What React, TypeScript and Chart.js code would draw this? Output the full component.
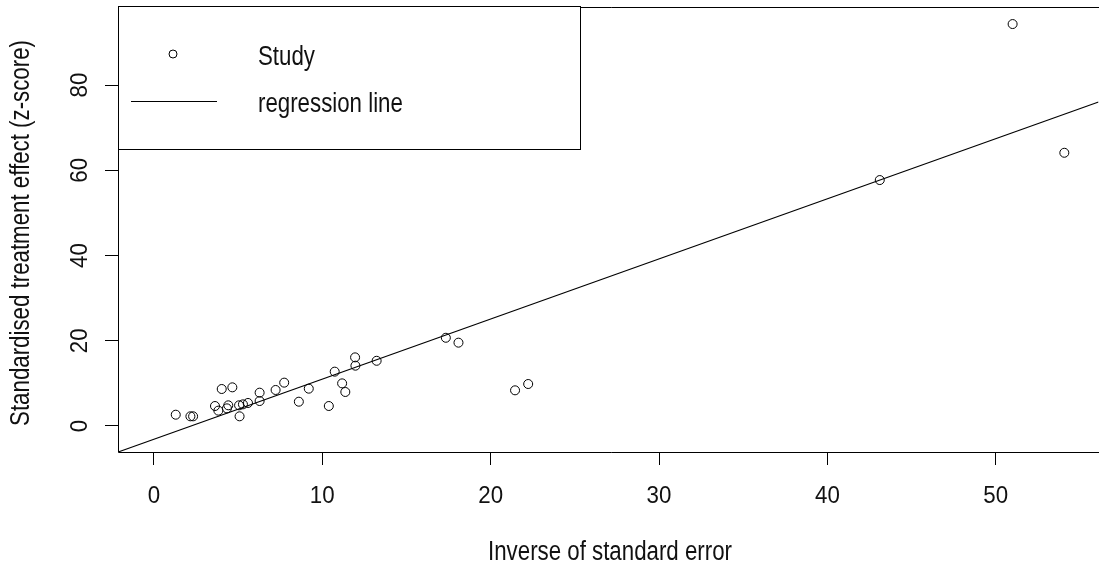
import React, { useEffect, useRef } from "react";
import { Chart, registerables } from "chart.js";

Chart.register(...registerables);

// Study points: inverse of standard error (x) vs standardised effect (y)
const STUDY_X = [
  1.3, 2.17, 2.33, 3.63, 3.83, 4.03, 4.66, 4.34, 4.42, 5.06, 5.09, 5.29, 5.59,
  6.28, 6.28, 7.23, 7.74, 8.61, 9.2, 10.39, 10.74, 11.18, 11.37, 11.95, 11.97,
  13.23, 17.34, 18.09, 21.45, 22.23, 43.11, 51.0, 54.07,
];
const STUDY_Y = [
  2.65, 2.27, 2.27, 4.69, 3.6, 8.68, 9.07, 4.14, 4.85, 4.85, 2.27, 5.08, 5.4,
  7.82, 5.86, 8.45, 10.17, 5.7, 8.76, 4.69, 12.75, 10.0, 7.98, 16.1, 14.15,
  15.3, 20.7, 19.55, 8.37, 9.85, 57.7, 94.3, 64.1,
];

// Regression line (y = intercept + slope * x), drawn across the x range
const REG_INTERCEPT = -3.1;
const REG_SLOPE = 1.41;
const REG_X = [-2.13, 56.1];

const X_TICKS = [0, 10, 20, 30, 40, 50];
const Y_TICKS = [0, 20, 40, 60, 80];
const X_LABEL = "Inverse of standard error";
const Y_LABEL = "Standardised treatment effect (z-score)";
const LEGEND_LABELS = ["Study", "regression line"];

const FONT = "'Liberation Sans', Arial, sans-serif";
const TEXT_COLOR = "#111";

function drawText(
  ctx: CanvasRenderingContext2D,
  text: string,
  x: number,
  y: number,
  size: number,
  sx: number,
  align: CanvasTextAlign,
  rotate: boolean
) {
  ctx.save();
  ctx.translate(x, y);
  if (rotate) ctx.rotate(-Math.PI / 2);
  ctx.scale(sx, 1);
  ctx.font = `${size}px ${FONT}`;
  ctx.fillStyle = TEXT_COLOR;
  ctx.textAlign = align;
  ctx.textBaseline = "alphabetic";
  ctx.fillText(text, 0, 0);
  ctx.restore();
}

const decorPlugin = {
  id: "rdecor",
  afterDraw(chart: any) {
    const ctx: CanvasRenderingContext2D = chart.ctx;
    const a = chart.chartArea;
    const xs = chart.scales.x;
    const ys = chart.scales.y;
    ctx.save();
    // plot box (right side lies beyond the visible picture)
    ctx.strokeStyle = "#000";
    ctx.lineWidth = 1;
    ctx.beginPath();
    ctx.moveTo(chart.width, a.top + 0.5);
    ctx.lineTo(a.left + 0.5, a.top + 0.5);
    ctx.lineTo(a.left + 0.5, a.bottom + 0.5);
    ctx.lineTo(chart.width, a.bottom + 0.5);
    ctx.stroke();

    // tick labels
    for (const v of X_TICKS) {
      drawText(ctx, String(v), xs.getPixelForValue(v), 503, 24, 0.93, "center", false);
    }
    for (const v of Y_TICKS) {
      drawText(ctx, String(v), 87, ys.getPixelForValue(v), 24, 0.93, "center", true);
    }
    // axis titles
    drawText(ctx, X_LABEL, 610, 560, 27, 0.825, "center", false);
    drawText(ctx, Y_LABEL, 29, 233, 27, 0.825, "center", true);

    // legend
    const lx = a.left;
    const ly = a.top;
    ctx.fillStyle = "#fff";
    ctx.fillRect(lx + 0.5, ly - 0.5, 462, 143);
    ctx.strokeStyle = "#000";
    ctx.lineWidth = 1;
    ctx.strokeRect(lx + 0.5, ly - 0.5, 462, 143);
    ctx.beginPath();
    ctx.arc(lx + 55, ly + 47, 4, 0, Math.PI * 2);
    ctx.stroke();
    ctx.beginPath();
    ctx.moveTo(lx + 13, ly + 94.5);
    ctx.lineTo(lx + 99, ly + 94.5);
    ctx.stroke();
    drawText(ctx, LEGEND_LABELS[0], lx + 140, ly + 58, 27, 0.825, "left", false);
    drawText(ctx, LEGEND_LABELS[1], lx + 140, ly + 105, 27, 0.825, "left", false);
    ctx.restore();
  },
};

export default function App() {
  const ref = useRef<HTMLCanvasElement | null>(null);
  useEffect(() => {
    if (!ref.current) return;
    const studyData = STUDY_X.map((x, i) => ({ x, y: STUDY_Y[i] }));
    const regData = REG_X.map((x) => ({ x, y: REG_INTERCEPT + REG_SLOPE * x }));
    const chart = new Chart(ref.current, {
      type: "scatter",
      data: {
        datasets: [
          {
            label: LEGEND_LABELS[0],
            data: studyData,
            pointStyle: "circle",
            pointRadius: 4.5,
            pointBorderWidth: 1,
            pointBorderColor: "#000",
            pointBackgroundColor: "rgba(0,0,0,0)",
            showLine: false,
            order: 1,
          },
          {
            label: LEGEND_LABELS[1],
            data: regData,
            showLine: true,
            borderColor: "#000",
            borderWidth: 1.2,
            pointRadius: 0,
            fill: false,
            order: 2,
          },
        ],
      },
      options: {
        animation: false,
        responsive: false,
        events: [],
        layout: { padding: { top: 7, right: 0, left: 0, bottom: 0 } },
        plugins: {
          legend: { display: false },
          tooltip: { enabled: false },
          title: { display: false },
        },
        scales: {
          x: {
            type: "linear",
            min: -2.13,
            max: 56.1,
            afterBuildTicks: (s: any) => {
              s.ticks = X_TICKS.map((v) => ({ value: v }));
            },
            afterFit: (s: any) => {
              s.height = 115;
            },
            ticks: { display: false },
            border: { display: false },
            grid: {
              drawOnChartArea: false,
              drawTicks: true,
              tickLength: 13,
              color: "#000",
              tickColor: "#000",
              tickWidth: 1,
            },
          },
          y: {
            type: "linear",
            min: -6.1,
            max: 98.3,
            afterBuildTicks: (s: any) => {
              s.ticks = Y_TICKS.map((v) => ({ value: v }));
            },
            afterFit: (s: any) => {
              s.width = 118;
            },
            ticks: { display: false },
            border: { display: false },
            grid: {
              drawOnChartArea: false,
              drawTicks: true,
              tickLength: 13,
              color: "#000",
              tickColor: "#000",
              tickWidth: 1,
            },
          },
        },
      },
      plugins: [decorPlugin],
    });
    return () => chart.destroy();
  }, []);
  return (
    <div
      style={{
        position: "absolute",
        left: 0,
        top: 0,
        width: 1099,
        height: 567,
        overflow: "hidden",
        background: "#fff",
      }}
    >
      <canvas ref={ref} width={1104} height={567} style={{ display: "block", width: 1104, height: 567 }} />
    </div>
  );
}
